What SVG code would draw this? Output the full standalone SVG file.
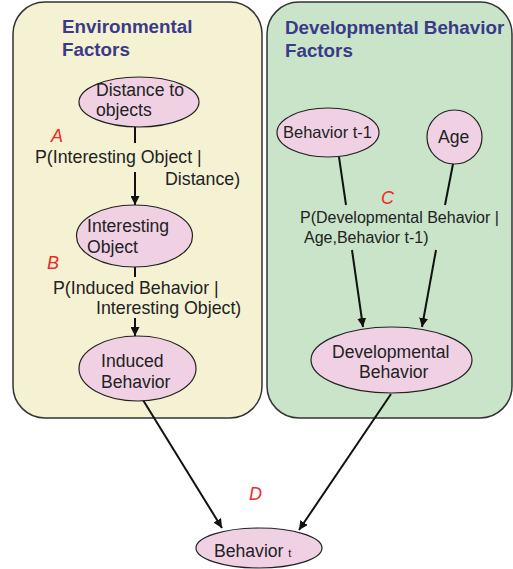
<svg xmlns="http://www.w3.org/2000/svg" width="513" height="569" viewBox="0 0 513 569">
<defs>
<marker id="arr" viewBox="0 0 10 10" refX="10" refY="5" markerWidth="9" markerHeight="9" markerUnits="userSpaceOnUse" orient="auto">
<path d="M0,0 L10,5 L0,10 z" fill="#111"/>
</marker>
<style>
.panel{stroke:#333;stroke-width:1.5}
.title{font-family:"Liberation Sans",Arial,sans-serif;font-weight:bold;font-size:18.8px;fill:#3a3a88}
.node{fill:#f0d1e4;stroke:#222;stroke-width:1.2}
.t{font-family:"Liberation Sans",Arial,sans-serif;font-size:17.6px;fill:#222}
.ts{font-family:"Liberation Sans",Arial,sans-serif;font-size:16.5px;fill:#222}
.lbl{font-family:"Liberation Sans",Arial,sans-serif;font-size:17.8px;fill:#222}
.lbl2{font-family:"Liberation Sans",Arial,sans-serif;font-size:16px;fill:#222}
.red{font-family:"Liberation Sans",Arial,sans-serif;font-style:italic;font-size:18px;fill:#ee2a2a}
.c{stroke:#111;stroke-width:2;fill:none}
</style>
</defs>
<g id="panel-env">
<rect class="panel" x="13" y="2" width="249" height="416" rx="32" fill="#f4f2d2"/>
<text class="title" x="62" y="33">Environmental</text>
<text class="title" x="62" y="56">Factors</text>
</g>
<g id="panel-dev">
<rect class="panel" x="267" y="2" width="245" height="416" rx="32" fill="#c9e4c9"/>
<text class="title" x="285" y="34">Developmental Behavior</text>
<text class="title" x="285" y="57">Factors</text>
</g>
<g id="connectors">
<line class="c" x1="135" y1="127" x2="135" y2="143"/>
<line class="c" x1="135" y1="172" x2="135" y2="205" marker-end="url(#arr)"/>
<line class="c" x1="135" y1="267" x2="135" y2="277"/>
<line class="c" x1="135" y1="318" x2="135" y2="336" marker-end="url(#arr)"/>
<line class="c" x1="339" y1="157" x2="346" y2="205"/>
<line class="c" x1="453" y1="164" x2="445" y2="205"/>
<line class="c" x1="352" y1="250" x2="363" y2="327" marker-end="url(#arr)"/>
<line class="c" x1="436" y1="250" x2="422" y2="327" marker-end="url(#arr)"/>
<line class="c" x1="143" y1="400" x2="222" y2="528" marker-end="url(#arr)"/>
<line class="c" x1="391" y1="394" x2="299" y2="530" marker-end="url(#arr)"/>
</g>
<g id="labels">
<text class="red" x="51" y="142">A</text>
<text class="lbl" x="35" y="163">P(Interesting Object |</text>
<text class="lbl" x="165" y="185">Distance)</text>
<text class="red" x="47" y="269">B</text>
<text class="lbl" x="53" y="294">P(Induced Behavior |</text>
<text class="lbl" x="96" y="314">Interesting Object)</text>
<text class="red" x="381" y="204">C</text>
<text class="lbl2" x="300" y="223">P(Developmental Behavior |</text>
<text class="lbl2" x="304" y="243">Age,Behavior t-1)</text>
<text class="red" x="249" y="500">D</text>
</g>
<g id="node-distance">
<ellipse class="node" cx="139" cy="102" rx="60" ry="25"/>
<text class="t" x="96" y="96">Distance to</text>
<text class="t" x="96" y="116">objects</text>
</g>
<g id="node-interesting">
<ellipse class="node" cx="134.5" cy="236" rx="58" ry="31"/>
<text class="t" x="87" y="232">Interesting</text>
<text class="t" x="87" y="253">Object</text>
</g>
<g id="node-induced">
<ellipse class="node" cx="137.5" cy="368.5" rx="58.5" ry="32.5"/>
<text class="t" x="101" y="367">Induced</text>
<text class="t" x="101" y="388">Behavior</text>
</g>
<g id="node-behavior-t1">
<ellipse class="node" cx="328" cy="132.5" rx="51" ry="24.5"/>
<text class="ts" x="283" y="138">Behavior t-1</text>
</g>
<g id="node-age">
<ellipse class="node" cx="454.5" cy="137" rx="27.5" ry="27"/>
<text class="t" x="438" y="143">Age</text>
</g>
<g id="node-developmental">
<ellipse class="node" cx="391.5" cy="360" rx="80.5" ry="33"/>
<text class="t" x="332" y="358">Developmental</text>
<text class="t" x="359" y="378">Behavior</text>
</g>
<g id="node-behavior-t">
<ellipse class="node" cx="259" cy="548" rx="63" ry="20"/>
<text class="t" x="214" y="557" font-size="18">Behavior <tspan font-size="11">t</tspan></text>
</g>
</svg>
